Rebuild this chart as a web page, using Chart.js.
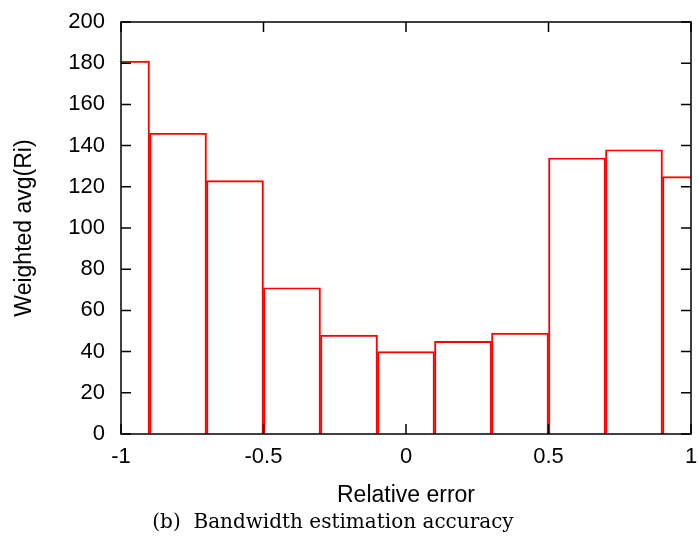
<!DOCTYPE html>
<html>
<head>
<meta charset="utf-8">
<script src="https://cdn.jsdelivr.net/npm/chart.js@4.4.0/dist/chart.umd.min.js"></script>
<style>
  html, body { margin: 0; padding: 0; background: #fff; }
  #wrap { position: relative; width: 698px; height: 536px; }
  #caption {
    position: absolute; left: 0; width: 666px; top: 508px;
    text-align: center; font-family: "DejaVu Serif", serif; font-size: 20px; color: #000;
    line-height: 26px; white-space: nowrap;
  }
</style>
</head>
<body>
<div id="wrap">
  <canvas id="histChart" width="698" height="536"></canvas>
  <div id="caption">(b)&nbsp; Bandwidth estimation accuracy</div>
</div>
<script>
// histogram bins (centre of each bin, width 0.2)
const binCenters = [-1, -0.8, -0.6, -0.4, -0.2, 0, 0.2, 0.4, 0.6, 0.8, 1];
const weightedAvg = [181, 146, 123, 71, 48, 40, 45, 49, 134, 138, 125];
const xTickValues = [-1, -0.5, 0, 0.5, 1];
const yTickValues = [0, 20, 40, 60, 80, 100, 120, 140, 160, 180, 200];

Chart.defaults.font.family = '"Liberation Sans", Arial, sans-serif';
Chart.defaults.color = '#000';

// gnuplot style frame with ticks pointing inwards, mirrored on top/right
const frameTicks = {
    id: 'frameTicks',
    afterDatasetsDraw(chart) {
        const { ctx, chartArea: a, scales: { x, y } } = chart;
        const len = 10;
        ctx.save();
        ctx.strokeStyle = '#000';
        ctx.lineWidth = 1.5;
        ctx.beginPath();
        x.ticks.forEach((t, i) => {
            const px = x.getPixelForTick(i);
            ctx.moveTo(px, a.bottom); ctx.lineTo(px, a.bottom - len);
            ctx.moveTo(px, a.top); ctx.lineTo(px, a.top + len);
        });
        y.ticks.forEach((t, i) => {
            const py = y.getPixelForTick(i);
            ctx.moveTo(a.left, py); ctx.lineTo(a.left + len, py);
            ctx.moveTo(a.right, py); ctx.lineTo(a.right - len, py);
        });
        ctx.stroke();
        ctx.strokeRect(a.left, a.top, a.right - a.left, a.bottom - a.top);
        ctx.restore();
    }
};

const ctx = document.getElementById('histChart').getContext('2d');

new Chart(ctx, {
    type: 'bar',
    data: {
        datasets: [{
            data: binCenters.map((c, i) => ({ x: c, y: weightedAvg[i] })),
            backgroundColor: 'rgba(255,255,255,0)',
            borderColor: '#ff0000',
            borderWidth: 1.3,
            barPercentage: 1,
            categoryPercentage: 1
        }]
    },
    options: {
        responsive: false,
        animation: false,
        layout: { padding: { top: 22, right: 7, left: 0, bottom: 0 } },
        plugins: { legend: { display: false }, tooltip: { enabled: false } },
        scales: {
            x: {
                type: 'linear',
                min: -1,
                max: 1,
                offset: false,
                grid: { display: false, offset: false, drawTicks: false },
                border: { display: false },
                afterBuildTicks: scale => { scale.ticks = xTickValues.map(v => ({ value: v })); },
                afterFit: scale => {
                    scale.height = 102;
                    scale.paddingLeft = 0;
                    scale.paddingRight = 0;
                },
                ticks: {
                    padding: 10,
                    maxRotation: 0,
                    font: { size: 22 },
                    callback: v => String(v)
                },
                title: {
                    display: true,
                    text: 'Relative error',
                    font: { size: 23 },
                    padding: { top: 0, bottom: 27 }
                }
            },
            y: {
                min: 0,
                max: 200,
                grid: { display: false, drawTicks: false },
                border: { display: false },
                afterBuildTicks: scale => { scale.ticks = yTickValues.map(v => ({ value: v })); },
                afterFit: scale => {
                    scale.width = 121;
                    scale.paddingTop = 0;
                    scale.paddingBottom = 0;
                },
                ticks: {
                    padding: 16,
                    font: { size: 22 }
                },
                title: {
                    display: true,
                    text: 'Weighted avg(Ri)',
                    font: { size: 23 },
                    padding: { top: 11, bottom: 0 }
                }
            }
        }
    },
    plugins: [frameTicks]
});
</script>
</body>
</html>
